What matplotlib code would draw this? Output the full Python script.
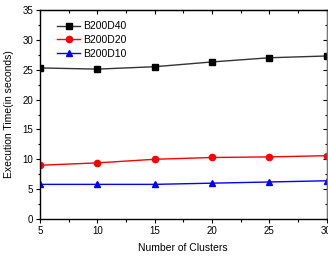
import matplotlib
matplotlib.use('Agg')
import matplotlib.pyplot as plt
from matplotlib.ticker import MultipleLocator

plt.rcParams['font.family'] = ['Liberation Sans', 'DejaVu Sans']

clusters = [5, 10, 15, 20, 25, 30]
b200d40 = [25.3, 25.1, 25.5, 26.3, 27.0, 27.3]
b200d20 = [9.0, 9.4, 10.0, 10.3, 10.4, 10.6]
b200d10 = [5.8, 5.8, 5.8, 6.0, 6.2, 6.4]

fig = plt.figure(figsize=(3.28, 2.58), dpi=100)
ax = fig.add_axes([40 / 328, 39 / 258, 286.5 / 328, 209 / 258])

ax.plot(clusters, b200d40, color='#333333', lw=1, marker='s', ms=4.5,
        mfc='black', mec='black', label='B200D40')
ax.plot(clusters, b200d20, color='red', lw=1, marker='o', ms=4.5,
        label='B200D20')
ax.plot(clusters, b200d10, color='blue', lw=1, marker='^', ms=4.5,
        label='B200D10')

ax.set_xlim(5, 30)
ax.set_ylim(0, 35)
ax.xaxis.set_major_locator(MultipleLocator(5))
ax.xaxis.set_minor_locator(MultipleLocator(2.5))
ax.yaxis.set_major_locator(MultipleLocator(5))
ax.yaxis.set_minor_locator(MultipleLocator(2.5))
ax.tick_params(which='major', direction='out', length=3, width=0.8,
               labelsize=7, pad=2)
ax.tick_params(which='minor', direction='out', length=1.8, width=0.8)
for s in ax.spines.values():
    s.set_linewidth(1)
ax.spines['right'].set_color('#777777')

# mirrored ticks on top and right pointing inward
top = ax.secondary_xaxis('top')
top.xaxis.set_major_locator(MultipleLocator(5))
top.xaxis.set_minor_locator(MultipleLocator(2.5))
top.tick_params(which='major', direction='in', length=3, width=0.8, labeltop=False)
top.tick_params(which='minor', direction='in', length=1.8, width=0.8)
right = ax.secondary_yaxis('right')
right.yaxis.set_major_locator(MultipleLocator(5))
right.yaxis.set_minor_locator(MultipleLocator(2.5))
right.tick_params(which='major', direction='in', length=3, width=0.8, labelright=False)
right.tick_params(which='minor', direction='in', length=1.8, width=0.8)

ax.set_xlabel('Number of Clusters', fontsize=7.5, labelpad=5)
ax.set_ylabel('Execution Time(in seconds)', fontsize=7.5, labelpad=6)

ax.legend(loc='upper left', bbox_to_anchor=(0.045, 0.965), frameon=False,
          fontsize=7.5, handlelength=2.2, handletextpad=0.3, labelspacing=0.35,
          borderaxespad=0)

fig.savefig('out.png', dpi=100)
